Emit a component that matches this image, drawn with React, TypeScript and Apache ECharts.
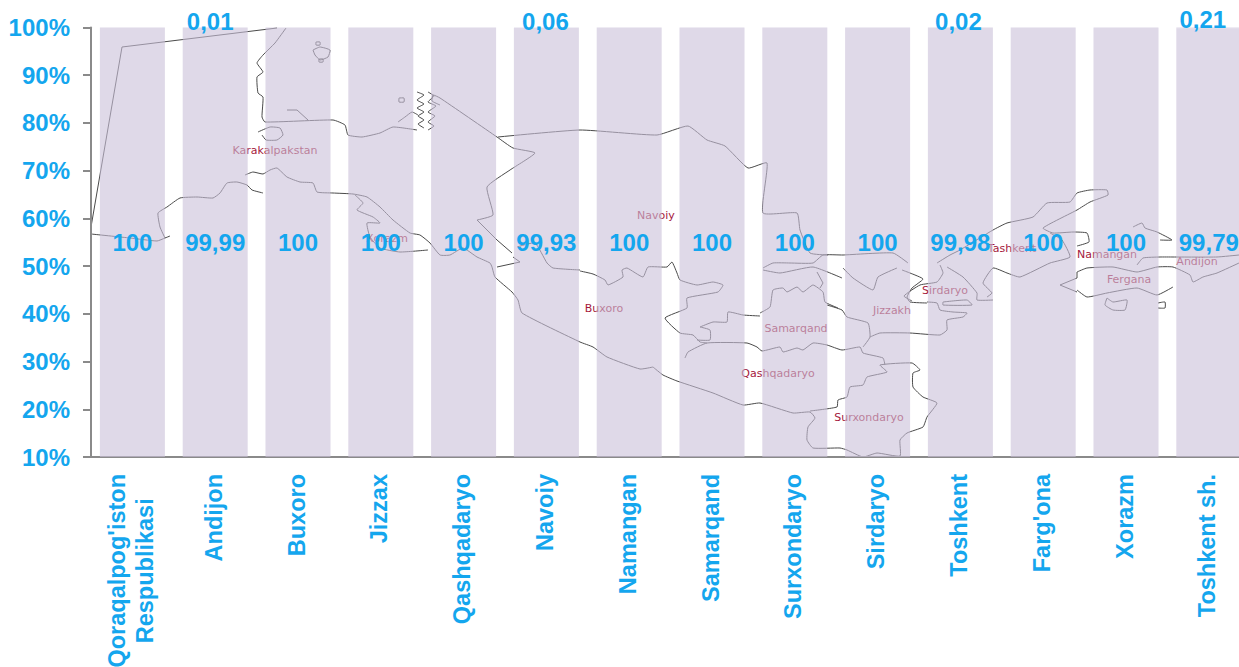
import React, { useEffect, useRef } from "react";
import * as echarts from "echarts";

const categories = ["Qoraqalpog'iston\nRespublikasi", "Andijon", "Buxoro", "Jizzax", "Qashqadaryo", "Navoiy", "Namangan", "Samarqand", "Surxondaryo", "Sirdaryo", "Toshkent", "Farg'ona", "Xorazm", "Toshkent sh."];
const mainValues = [100, 99.99, 100, 100, 100, 99.93, 100, 100, 100, 100, 99.98, 100, 100, 99.79];
const restValues = [null, 0.01, null, null, null, 0.06, null, null, null, null, 0.02, null, null, 0.21];
const yMin = 10;
const yMax = 100;
const yStep = 10;

const BLUE = "#14A6EE";
const AXIS = "#8A8A8A";
const FONT = '"Liberation Sans", Arial, sans-serif';

// Small nudges of the top labels, as they sit in the reference.
const restLabelShift: Record<number, number[]> = { 1: [-5, 0], 5: [-1, 0], 10: [-2, 0], 13: [-6, -2] };

// Background picture: outline of the map behind the bars (page pixels).
const mapLines: number[][][] = [
  [[91,227],[122,47],[277,28]],
  [[91,234],[130,238],[157,241],[165,238],[170,236]],
  [[165,238],[160,227],[158,213],[167,207],[180,198],[197,197],[213,198],[220,193],[227,183],[237,182],[247,185],[252,190],[263,193]],
  [[245,175],[253,172],[263,174],[270,170],[277,168],[287,177],[300,182],[313,183],[317,192],[333,193],[353,194],[367,197],[380,207],[393,220],[410,233],[420,235],[430,243],[440,255],[450,255],[463,248],[477,257],[490,263],[492,267],[495,277],[512,292],[518,300],[522,313],[580,342],[593,347],[607,357],[640,369],[653,367]],
  [[653,367],[663,375],[677,381],[713,393],[743,405],[760,403],[793,413],[810,412],[815,418],[808,427],[807,440],[813,448],[840,448],[847,450],[863,457],[877,453],[900,456],[900,440],[907,433],[923,427],[927,417],[937,403],[923,397],[913,387],[913,373],[920,370],[912,363],[880,365],[887,372],[867,377],[863,385],[850,387],[847,397],[838,400],[837,407],[810,411]],
  [[685,358],[688,352],[707,343],[747,343],[757,347],[762,351],[780,347],[783,352],[797,348],[803,350],[813,343],[827,345],[842,350],[860,347],[863,353],[883,358],[885,365]],
  [[863,347],[870,337],[868,323],[847,317],[842,310],[827,305]],
  [[870,337],[880,333],[910,333],[940,335],[947,330],[947,320],[963,317],[967,313],[953,312],[940,310],[937,303],[927,302]],
  [[760,313],[770,307],[773,290],[783,288],[787,292],[797,287],[803,292],[813,285],[823,292],[825,302],[838,308]],
  [[817,272],[823,283],[820,288]],
  [[763,268],[773,263],[790,263],[813,263],[823,255],[843,255],[893,253],[908,263]],
  [[763,270],[780,273],[813,267],[842,278]],
  [[843,268],[853,278],[873,290],[878,277],[897,268]],
  [[902,270],[910,273],[923,279],[912,288],[907,297],[910,302],[927,303]],
  [[580,271],[593,274],[605,280],[608,285],[623,277],[622,270],[627,268],[643,277],[648,267],[667,267],[672,262],[677,273],[680,280],[697,285],[713,282],[723,285],[718,292],[687,298],[687,308],[665,318],[680,333],[693,335],[700,342],[707,343]],
  [[700,327],[713,322],[727,322],[728,312],[743,315],[760,316]],
  [[700,327],[710,330],[710,340],[697,340]],
  [[477,220],[493,215],[487,187],[510,170],[535,153],[513,148],[497,137],[440,98],[433,95],[432,101],[440,105]],
  [[477,220],[497,240],[512,253]],
  [[497,267],[520,262],[513,257]],
  [[517,247],[535,243],[547,263],[553,268],[580,270]],
  [[498,137],[580,130],[657,135],[688,126],[707,140],[725,146],[748,168],[767,163],[763,213],[797,213],[800,230],[810,253],[828,255]],
  [[286,28],[275,43],[263,55],[257,63],[263,72],[257,77],[258,93],[263,97],[262,117],[265,122],[333,120],[345,125],[348,135],[362,137],[380,133],[393,127],[417,130]],
  [[287,110],[297,110],[308,120]],
  [[313,50],[320,47],[330,50],[328,57],[320,60],[315,55],[313,50]],
  [[316,42],[320,42],[320,45],[316,45],[316,42]],
  [[319,59],[323,59],[323,62],[319,62],[319,59]],
  [[399,98],[404,98],[404,102],[399,102],[399,98]],
  [[398,122],[405,117],[412,112],[418,115]],
  [[417,92],[424,95],[417,100],[424,104],[417,108],[424,112],[418,116],[424,120],[418,124],[424,128]],
  [[428,92],[434,96],[428,102],[436,106],[428,112],[435,116],[428,122],[434,126],[428,130]],
  [[258,132],[270,127],[280,128],[283,135],[277,140],[266,140],[262,135]],
  [[355,195],[363,203],[357,210],[373,217],[380,223],[367,223],[370,237],[380,248],[400,252],[428,250]],
  [[940,265],[943,273],[937,282],[920,285],[904,296],[912,301]],
  [[947,267],[963,277],[977,293],[977,300],[993,300]],
  [[943,302],[967,300],[972,305],[943,305],[943,302]],
  [[937,263],[950,255],[960,250],[993,230],[1007,223],[1033,217],[1047,203],[1070,202],[1077,193],[1090,190],[1107,190],[1108,195],[1090,202],[1077,210],[1043,228],[1053,233],[1073,232],[1087,233],[1089,242],[1077,246]],
  [[1050,233],[1062,240],[1070,257],[1050,263],[1020,277],[1007,273],[993,268],[983,283],[992,293],[987,297]],
  [[1077,272],[1087,268],[1113,267],[1137,272],[1157,267],[1173,267],[1190,275],[1193,282],[1203,277],[1217,273],[1239,263]],
  [[1077,290],[1087,297],[1107,293],[1137,288],[1157,295],[1173,287]],
  [[1060,285],[1077,278],[1077,272]],
  [[1060,285],[1077,292]],
  [[1133,227],[1142,223],[1145,228],[1157,232],[1172,240],[1160,240]],
  [[1137,265],[1143,258],[1160,257],[1173,257],[1217,257],[1239,255]],
  [[1107,298],[1105,305],[1113,310],[1125,310],[1127,300],[1113,302],[1107,298]],
  [[1158,303],[1165,302],[1165,308],[1158,308]],
];

const mapNames: [string, number, number][] = [
  ["Karakalpakstan", 275, 150],
  ["Xorazm", 387, 238],
  ["Navoiy", 656, 215],
  ["Buxoro", 604, 308],
  ["Samarqand", 796, 328],
  ["Qashqadaryo", 778, 373],
  ["Surxondaryo", 869, 417],
  ["Jizzakh", 892, 310],
  ["Sirdaryo", 945, 290],
  ["Tashkent", 1012, 248],
  ["Namangan", 1107, 254],
  ["Andijon", 1197, 261],
  ["Fergana", 1129, 279],
];

export default function App() {
  const ref = useRef<HTMLDivElement>(null);
  useEffect(() => {
    document.documentElement.style.overflow = "hidden";
    document.body.style.margin = "0";
    document.body.style.overflow = "hidden";
    const chart = echarts.init(ref.current!, null, { renderer: "svg" });
    const commaFmt = (v: any) => (v == null ? "" : String(v).replace(".", ","));
    chart.setOption({
      animation: false,
      backgroundColor: "#ffffff",
      grid: { left: 91, top: 27.5, width: 1159.2, height: 429.5, containLabel: false, outerBoundsMode: "none" },
      graphic: {
        elements: [
          ...mapLines.map((points) => ({
            type: "polyline",
            silent: true,
            z: 0,
            shape: { points, smooth: points.length > 3 ? 0.15 : 0 },
            style: { stroke: "#4a4a4a", fill: null, lineWidth: 1 },
          })),
          ...mapNames.map(([text, x, y]) => ({
            type: "text",
            silent: true,
            z: 0,
            x,
            y,
            style: { text, fill: "#a5183c", font: '11px "DejaVu Sans", sans-serif', textAlign: "center", textVerticalAlign: "middle" },
          })),
        ],
      },
      xAxis: {
        type: "category",
        data: categories,
        axisLine: { lineStyle: { color: AXIS, width: 2 } },
        axisTick: { length: 7, lineStyle: { color: AXIS, width: 2 } },
        axisLabel: {
          interval: 0,
          rotate: 90,
          margin: 17,
          padding: [0, 0, 3, 0],
          hideOverlap: false,
          formatter: (v: string) => v.split("\n").map((l) => `{c|${l}}`).join("\n"),
          rich: {
            c: { color: BLUE, fontFamily: FONT, fontWeight: "bold", fontSize: 23.5, lineHeight: 28, align: "center" },
          },
        },
      },
      yAxis: {
        type: "value",
        min: yMin,
        max: yMax,
        interval: yStep,
        splitLine: { show: false },
        axisLine: { show: true, lineStyle: { color: AXIS, width: 2 } },
        axisTick: { show: true, length: 8, lineStyle: { color: AXIS, width: 2 } },
        axisLabel: {
          color: BLUE,
          fontFamily: FONT,
          fontWeight: "bold",
          fontSize: 24,
          margin: 21,
          formatter: "{value}%",
        },
      },
      series: [
        {
          type: "bar",
          stack: "total",
          data: mainValues,
          barWidth: 65,
          z: 2,
          itemStyle: { color: "rgba(202,192,217,0.6)" },
          label: {
            show: true,
            position: "inside",
            color: BLUE,
            fontFamily: FONT,
            fontWeight: "bold",
            fontSize: 24,
            formatter: (p: any) => commaFmt(p.value),
          },
        },
        {
          type: "bar",
          stack: "total",
          data: restValues.map((value, i) =>
            restLabelShift[i] ? { value, label: { offset: restLabelShift[i] } } : value
          ),
          barWidth: 65,
          z: 2,
          itemStyle: { color: "rgba(202,192,217,0.6)" },
          label: {
            show: true,
            position: "top",
            distance: -6,
            color: BLUE,
            fontFamily: FONT,
            fontWeight: "bold",
            fontSize: 24,
            formatter: (p: any) => commaFmt(p.value),
          },
        },
      ],
    });
    return () => chart.dispose();
  }, []);
  return (
    <div style={{ position: "fixed", left: 0, top: 0, width: 1239, height: 667, overflow: "hidden" }}>
      <div ref={ref} style={{ width: 1280, height: 667 }} />
    </div>
  );
}
